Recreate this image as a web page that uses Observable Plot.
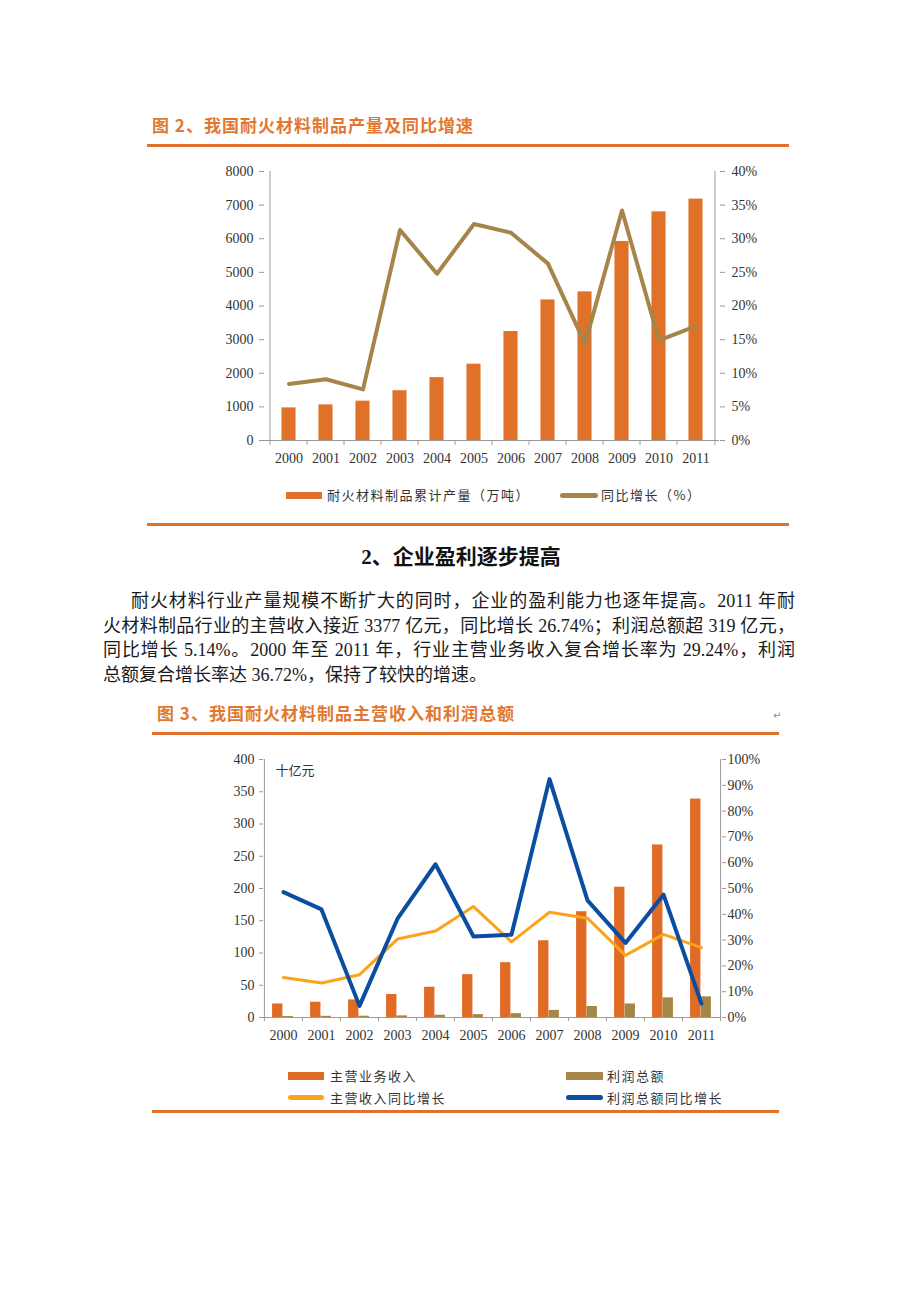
<!DOCTYPE html>
<html><head><meta charset="utf-8">
<script src="https://cdn.jsdelivr.net/npm/d3@7"></script>
<script src="https://cdn.jsdelivr.net/npm/@observablehq/plot@0.6"></script>
<style>
  html,body{margin:0;padding:0;background:#fff;}
  #page{position:relative;width:920px;height:1302px;background:#fff;overflow:hidden;font-family:"Liberation Serif","Noto Sans CJK SC",serif;color:#222;}
  .abs{position:absolute;}
  .title{font-family:"Noto Sans CJK SC",sans-serif;font-weight:700;color:#E2782F;font-size:17px;letter-spacing:1px;line-height:20px;white-space:nowrap;}
  .rule{background:#E0702A;height:3px;}
  .leg{font-family:"Noto Sans CJK SC",sans-serif;font-size:13px;letter-spacing:1.5px;color:#333;line-height:16px;white-space:nowrap;}
  .para{font-size:18px;line-height:25px;height:25px;white-space:nowrap;color:#1a1a1a;}
  .just{text-align:justify;text-align-last:justify;white-space:normal;overflow:hidden;}
  .chart svg{display:block;}
</style>
</head><body><div id="page"></div>
<script>
// ---------- data ----------
const years = ["2000","2001","2002","2003","2004","2005","2006","2007","2008","2009","2010","2011"];
// Figure 2
const outputVolume = [970, 1060, 1170, 1480, 1870, 2270, 3240, 4180, 4420, 5920, 6800, 7180];
const outputGrowth = [8.4, 9.1, 7.6, 31.3, 24.8, 32.2, 30.9, 26.3, 14.4, 34.2, 14.9, 17.0];
const ticksLeft1 = [0, 1000, 2000, 3000, 4000, 5000, 6000, 7000, 8000];
const ticksRight1 = [0, 5, 10, 15, 20, 25, 30, 35, 40];
// Figure 3
const revenue = [21, 23.7, 27.3, 35.6, 46.9, 66.5, 85, 119, 164, 202, 267.5, 338.7];
const profit = [1.5, 1.8, 2.0, 2.5, 3.5, 4.5, 6.0, 11.0, 17.0, 21.0, 30.5, 32.0];
const revenueGrowth = [15.5, 13.4, 16.6, 30.4, 33.5, 43.0, 29.3, 40.8, 38.5, 24.1, 32.2, 27.1];
const profitGrowth = [48.6, 41.9, 4.5, 38.3, 59.4, 31.4, 32.1, 92.4, 45.4, 28.9, 47.6, 5.4];
const ticksLeft2 = [0, 50, 100, 150, 200, 250, 300, 350, 400];
const ticksRight2 = [0, 10, 20, 30, 40, 50, 60, 70, 80, 90, 100];
const unitLabel2 = "十亿元";

const title2 = "图 2、我国耐火材料制品产量及同比增速";
const legend2 = ["耐火材料制品累计产量（万吨）", "同比增长（%）"];
const heading = "2、企业盈利逐步提高";
const paraLines = [
  "耐火材料行业产量规模不断扩大的同时，企业的盈利能力也逐年提高。2011 年耐",
  "火材料制品行业的主营收入接近 3377 亿元，同比增长 26.74%；利润总额超 319 亿元，",
  "同比增长 5.14%。2000 年至 2011 年，行业主营业务收入复合增长率为 29.24%，利润",
  "总额复合增长率达 36.72%，保持了较快的增速。"
];
const title3 = "图 3、我国耐火材料制品主营收入和利润总额";
const legend3 = ["主营业务收入", "利润总额", "主营收入同比增长", "利润总额同比增长"];

// ---------- colors ----------
const cBar1 = "#E07128", cLine1 = "#A6844A";
const cRev = "#E06B25", cProf = "#A68647", cRevG = "#FBA41B", cProfG = "#0B4DA0";
const axisGray = "#9a9a9a", textGray = "#333";

const page = document.getElementById("page");
function el(html, style, cls) {
  const d = document.createElement("div");
  d.className = "abs " + (cls || "");
  d.style.cssText = style;
  d.innerHTML = html;
  page.appendChild(d);
  return d;
}

// ---------- Figure 2 header ----------
el(title2, "left:152px;top:115px;", "title");
el("", "left:147px;top:144px;width:642px;", "rule");

// ---------- Figure 2 chart ----------
const W1 = {width: 920, height: 330, ml: 264, mr: 201, mt: 21, mb: 40};
const band1 = (W1.width - W1.ml - W1.mr) / years.length;
const inset1 = (band1 - 15) / 2;
const ratio1 = ticksLeft1[ticksLeft1.length - 1] / ticksRight1[ticksRight1.length - 1];
const data1 = years.map((year, i) => ({year, output: outputVolume[i], growth: outputGrowth[i]}));
const style = {fontFamily: "'Liberation Serif', serif", fontSize: "14px", color: textGray, background: "transparent"};

const chart1 = Plot.plot({
  width: W1.width, height: W1.height,
  marginLeft: W1.ml, marginRight: W1.mr, marginTop: W1.mt, marginBottom: W1.mb,
  x: {domain: years, padding: 0, label: null},
  y: {domain: [0, ticksLeft1[ticksLeft1.length - 1]], label: null},
  style,
  marks: [
    Plot.barY(data1, {x: "year", y: "output", fill: cBar1, insetLeft: inset1, insetRight: inset1}),
    Plot.ruleY([0], {stroke: axisGray}),
    Plot.ruleX([years[0]], {dx: -band1 / 2, stroke: axisGray}),
    Plot.ruleX([years[years.length - 1]], {dx: band1 / 2, stroke: axisGray}),
    Plot.axisY(ticksLeft1, {anchor: "left", tickSize: 5, tickPadding: 6, stroke: axisGray, fill: textGray, label: null, tickFormat: v => String(v)}),
    Plot.axisY(ticksRight1.map(v => v * ratio1), {anchor: "right", tickSize: 5, tickPadding: 7, stroke: axisGray, fill: textGray, label: null, tickFormat: v => (v / ratio1) + "%"}),
    Plot.axisX(years, {tickSize: 5, tickFormat: () => "", dx: -band1 / 2, stroke: axisGray, label: null}),
    Plot.axisX([years[years.length - 1]], {tickSize: 5, tickFormat: () => "", dx: band1 / 2, stroke: axisGray, label: null}),
    Plot.axisX(years, {tickSize: 0, tickPadding: 13, fill: textGray, label: null}),
    Plot.line(data1, {x: "year", y: d => d.growth * ratio1, stroke: cLine1, strokeWidth: 4})
  ]
});
const c1 = el("", "left:0px;top:150px;", "chart");
c1.appendChild(chart1);

// legend fig 2
el("", `left:286px;top:492px;width:36px;height:7px;background:${cBar1};`);
el(legend2[0], "left:327px;top:487px;", "leg");
el("", `left:560px;top:493px;width:38px;height:5px;border-radius:3px;background:${cLine1};`);
el(legend2[1], "left:601px;top:487px;", "leg");
el("", "left:147px;top:523px;width:642px;", "rule");

// ---------- heading and paragraph ----------
el(heading, "left:0;top:543px;width:922px;text-align:center;font-size:21px;font-weight:700;line-height:28px;font-family:'Liberation Serif','Noto Sans CJK SC',serif;color:#111;");
el(paraLines[0], "left:131px;top:589px;width:664px;", "para just");
el(paraLines[1], "left:103px;top:614px;width:692px;", "para just");
el(paraLines[2], "left:103px;top:638px;width:692px;", "para just");
el(paraLines[3], "left:103px;top:663px;", "para");

// ---------- Figure 3 header ----------
el(title3, "left:157px;top:703px;", "title");
el("↵", "left:773px;top:710px;font-size:10px;color:#888;font-family:'DejaVu Sans',sans-serif;");
el("", "left:152px;top:732px;width:627px;", "rule");

// ---------- Figure 3 chart ----------
const W2 = {width: 920, height: 320, ml: 263, mr: 199, mt: 19, mb: 43};
const band2 = (W2.width - W2.ml - W2.mr) / years.length;
const barW2 = 10.5;
const ratio2 = ticksLeft2[ticksLeft2.length - 1] / ticksRight2[ticksRight2.length - 1];
const data2 = years.map((year, i) => ({year, revenue: revenue[i], profit: profit[i], rg: revenueGrowth[i], pg: profitGrowth[i]}));

const chart2 = Plot.plot({
  width: W2.width, height: W2.height,
  marginLeft: W2.ml, marginRight: W2.mr, marginTop: W2.mt, marginBottom: W2.mb,
  x: {domain: years, padding: 0, label: null},
  y: {domain: [0, ticksLeft2[ticksLeft2.length - 1]], label: null},
  style,
  marks: [
    Plot.barY(data2, {x: "year", y: "revenue", fill: cRev, insetLeft: band2 / 2 - barW2 - 0.5, insetRight: band2 / 2 + 0.5}),
    Plot.barY(data2, {x: "year", y: "profit", fill: cProf, insetLeft: band2 / 2 - 0.5, insetRight: band2 / 2 - barW2 + 0.5}),
    Plot.ruleY([0], {stroke: axisGray}),
    Plot.ruleX([years[0]], {dx: -band2 / 2, stroke: axisGray}),
    Plot.ruleX([years[years.length - 1]], {dx: band2 / 2, stroke: axisGray}),
    Plot.axisY(ticksLeft2, {anchor: "left", tickSize: 4, tickPadding: 5, stroke: axisGray, fill: textGray, label: null, tickFormat: v => String(v)}),
    Plot.axisY(ticksRight2.map(v => v * ratio2), {anchor: "right", tickSize: 4, tickPadding: 2, stroke: axisGray, fill: textGray, label: null, tickFormat: v => Math.round(v / ratio2) + "%"}),
    Plot.axisX(years, {tickSize: 4, tickFormat: () => "", dx: -band2 / 2, stroke: axisGray, label: null}),
    Plot.axisX([years[years.length - 1]], {tickSize: 4, tickFormat: () => "", dx: band2 / 2, stroke: axisGray, label: null}),
    Plot.axisX(years, {tickSize: 0, tickPadding: 13, fill: textGray, label: null}),
    Plot.line(data2, {x: "year", y: d => d.rg * ratio2, stroke: cRevG, strokeWidth: 3}),
    Plot.line(data2, {x: "year", y: d => d.pg * ratio2, stroke: cProfG, strokeWidth: 4}),
    Plot.text([unitLabel2], {text: d => d, frameAnchor: "top-left", dx: 12, dy: 6, fontFamily: "'Noto Sans CJK SC', sans-serif", fontSize: 13, fill: textGray, textAnchor: "start"})
  ]
});
const c2 = el("", "left:0px;top:740px;", "chart");
c2.appendChild(chart2);

// legend fig 3
el("", `left:288px;top:1072px;width:36px;height:8px;background:${cRev};`);
el(legend3[0], "left:330px;top:1068px;", "leg");
el("", `left:566px;top:1072px;width:37px;height:8px;background:${cProf};`);
el(legend3[1], "left:607px;top:1068px;", "leg");
el("", `left:288px;top:1095px;width:36px;height:5px;border-radius:3px;background:${cRevG};`);
el(legend3[2], "left:330px;top:1090px;", "leg");
el("", `left:566px;top:1095px;width:37px;height:5px;border-radius:3px;background:${cProfG};`);
el(legend3[3], "left:607px;top:1090px;", "leg");
el("", "left:152px;top:1110px;width:627px;", "rule");
</script>
</body></html>
